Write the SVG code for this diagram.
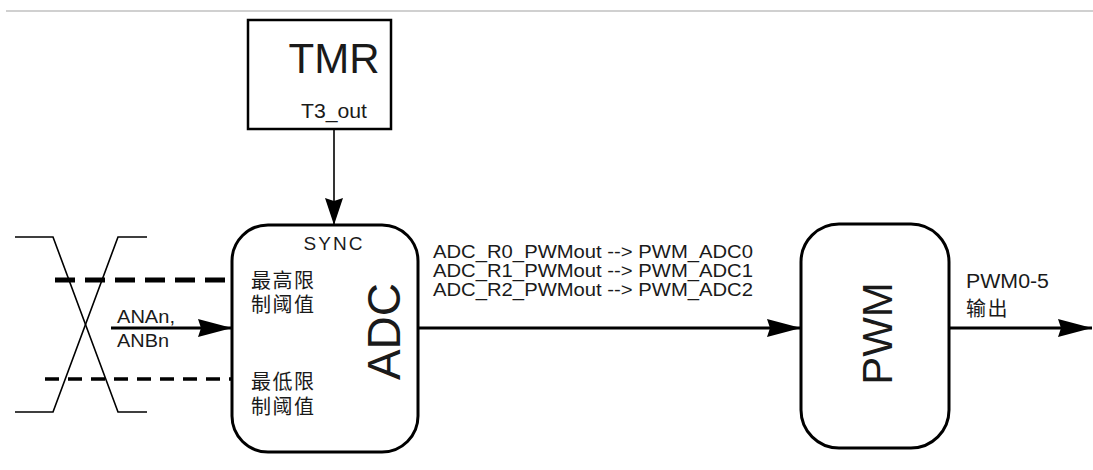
<svg xmlns="http://www.w3.org/2000/svg" width="1093" height="470" viewBox="0 0 1093 470">
<style>
.lat{font-family:"Liberation Sans",Arial,sans-serif;fill:#1a1a1a}
.cjk{font-family:"Liberation Sans","Noto Sans CJK SC",sans-serif;fill:#1a1a1a;font-size:20px;letter-spacing:1.5px}
.box{fill:#fff;stroke:#000;stroke-width:3}
.wire{stroke:#000;stroke-width:3;fill:none}
.thin{stroke:#000;stroke-width:1.6;fill:none}
</style>
<defs>
<marker id="ah" markerUnits="userSpaceOnUse" markerWidth="36" markerHeight="20" refX="34" refY="9" orient="auto">
<path d="M0,0 L34,9 L0,18 L3,9 Z" fill="#000"/>
</marker>
<marker id="ahs" markerUnits="userSpaceOnUse" markerWidth="30" markerHeight="20" refX="27" refY="9" orient="auto">
<path d="M0,0 L27,9 L0,18 L3,9 Z" fill="#000"/>
</marker>
</defs>
<rect width="1093" height="470" fill="#fff"/>
<line x1="6" y1="11" x2="1093" y2="11" stroke="#c0c0c0" stroke-width="1.5"/>

<g id="signal">
<path class="thin" d="M15,237 H53 L118,412 H147"/>
<path class="thin" d="M147,237 H118 L53,412 H15"/>
<line x1="55" y1="280" x2="242" y2="280" stroke="#000" stroke-width="5" stroke-dasharray="20 10"/>
<line x1="45" y1="379" x2="231" y2="379" stroke="#000" stroke-width="3.5" stroke-dasharray="14 9"/>
</g>

<g id="connectors">
<line class="thin" x1="334" y1="130" x2="334" y2="225" marker-end="url(#ahs)"/>
<line class="wire" x1="111" y1="328" x2="232" y2="328" marker-end="url(#ah)"/>
<line class="wire" x1="418" y1="328" x2="801" y2="328" marker-end="url(#ah)"/>
<line class="wire" x1="949" y1="328" x2="1092" y2="328" marker-end="url(#ah)"/>
</g>

<g id="tmr">
<rect x="248" y="20" width="143" height="109" fill="#fff" stroke="#000" stroke-width="2.5"/>
<text class="lat" x="334" y="73" font-size="42" text-anchor="middle">TMR</text>
<text class="lat" x="334" y="118" font-size="20" text-anchor="middle" textLength="66" lengthAdjust="spacingAndGlyphs">T3_out</text>
</g>

<g id="adc">
<rect class="box" x="232" y="225" width="186" height="227" rx="36" ry="36"/>
<text class="lat" x="334" y="250" font-size="19" text-anchor="middle" letter-spacing="2">SYNC</text>
<text class="cjk" x="251" y="288">最高限</text>
<text class="cjk" x="251" y="312">制阈值</text>
<text class="cjk" x="251" y="389">最低限</text>
<text class="cjk" x="251" y="414">制阈值</text>
<text class="lat" font-size="46" text-anchor="middle" transform="translate(400,331.5) rotate(-90)">ADC</text>
</g>

<g id="pwm">
<rect class="box" x="801" y="224" width="148" height="224" rx="38" ry="38"/>
<text class="lat" font-size="42" text-anchor="middle" transform="translate(892,333.5) rotate(-90)">PWM</text>
</g>

<g id="labels">
<text class="lat" x="117" y="323" font-size="18" textLength="58" lengthAdjust="spacingAndGlyphs">ANAn,</text>
<text class="lat" x="117" y="347" font-size="18" textLength="52" lengthAdjust="spacingAndGlyphs">ANBn</text>
<text class="lat" x="433" y="258" font-size="18.5" textLength="320" lengthAdjust="spacingAndGlyphs">ADC_R0_PWMout --&gt; PWM_ADC0</text>
<text class="lat" x="433" y="277" font-size="18.5" textLength="320" lengthAdjust="spacingAndGlyphs">ADC_R1_PWMout --&gt; PWM_ADC1</text>
<text class="lat" x="433" y="296" font-size="18.5" textLength="320" lengthAdjust="spacingAndGlyphs">ADC_R2_PWMout --&gt; PWM_ADC2</text>
<text class="lat" x="966" y="288" font-size="20" textLength="83" lengthAdjust="spacingAndGlyphs">PWM0-5</text>
<text class="cjk" x="966" y="316">输出</text>
</g>
</svg>
